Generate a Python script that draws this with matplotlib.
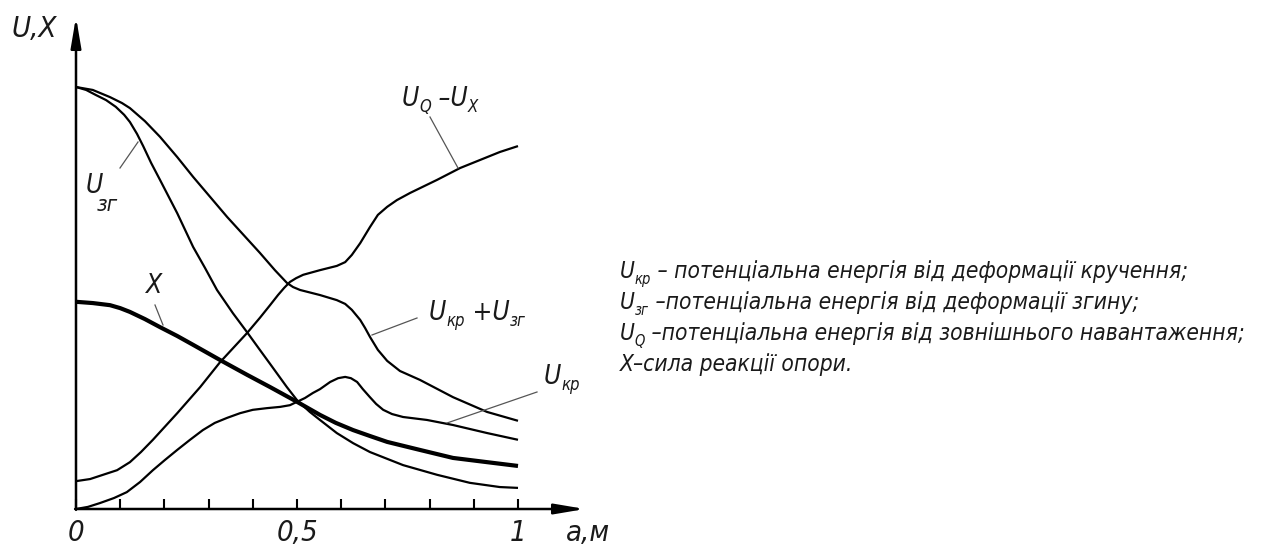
import os
import numpy as np
import matplotlib
matplotlib.use("Agg")
import matplotlib.pyplot as plt
from matplotlib import font_manager as fm

# ---------------- data ----------------
x_sum = [0, .038, .077, .104, .122, .156, .190, .229, .265, .342, .416, .450, .477, .491, .507,
         .552, .590, .609, .624, .643, .654, .665, .683, .704, .733, .778, .853, .930, 1.0]
u_sum = [1.0, .993, .976, .962, .950, .919, .882, .834, .787, .692, .607, .566, .536, .526, .519,
         .507, .495, .486, .472, .448, .429, .408, .377, .351, .327, .306, .265, .230, .209]

x_zg = [0, .023, .045, .068, .090, .109, .122, .138, .152, .170, .190, .229, .265, .292, .319, .355,
        .387, .416, .439, .477, .500, .529, .552, .590, .627, .665, .740, .817, .891, .959, 1.0]
u_zg = [1.0, .993, .981, .969, .953, .934, .917, .889, .860, .820, .780, .701, .621, .571, .519, .464,
        .419, .377, .344, .289, .258, .230, .211, .180, .156, .135, .104, .081, .062, .052, .050]

x_q = [0, .032, .061, .093, .122, .147, .174, .229, .281, .326, .387, .416, .439, .457, .471, .484,
       .498, .514, .552, .590, .609, .624, .643, .665, .683, .704, .726, .756, .817, .869, .959, 1.0]
u_q = [.066, .071, .081, .092, .111, .135, .164, .227, .289, .348, .417, .453, .483, .507, .524, .538,
       .547, .555, .566, .576, .585, .602, .630, .668, .697, .716, .732, .749, .780, .808, .846, .860]

x_kp = [0, .027, .054, .086, .115, .145, .174, .201, .229, .258, .287, .314, .342, .371, .400, .432,
        .462, .484, .500, .518, .536, .552, .575, .593, .609, .622, .636, .649, .665, .679, .695, .715,
        .740, .794, .853, .930, 1.0]
u_kp = [0, .005, .014, .026, .040, .064, .092, .116, .140, .164, .187, .204, .216, .227, .235, .239,
        .242, .246, .254, .263, .275, .284, .301, .310, .313, .310, .301, .284, .265, .249, .235, .225,
        .218, .211, .199, .180, .164]

x_x = [0, .038, .077, .100, .122, .156, .190, .229, .265, .326, .387, .439, .500, .552, .588, .627,
       .665, .704, .778, .853, .930, 1.0]
f_x = [.491, .488, .483, .476, .467, .450, .431, .410, .389, .353, .318, .289, .254, .223, .204, .187,
       .173, .159, .140, .121, .111, .102]

x_ticks = [0, .1, .2, .3, .4, .5, .6, .7, .8, .9, 1.0]
x_ticklabels = ["0", "", "", "", "", "0,5", "", "", "", "", "1"]

legend_lines = [
    ("кр", " – потенціальна енергія від деформації кручення;"),
    ("зг", " –потенціальна енергія від деформації згину;"),
    ("Q", " –потенціальна енергія від зовнішнього навантаження;"),
]
legend_last = "X–сила реакції опори."

# ---------------- font: prefer a narrow italic face ----------------
prefs = ["liberationsansnarrow-italic", "dejavusanscondensed-oblique",
         "notosans-extracondenseditalic", "notosans-condenseditalic",
         "notosans-semicondenseditalic", "robotocondensed-italic",
         "opensans-condenseditalic", "opensans_condensed-italic",
         "roboto-italic", "liberationsans-italic"]
files = {os.path.basename(f.fname).lower().rsplit(".", 1)[0]: f.fname
         for f in fm.fontManager.ttflist}
FONTFILE = None
for p in prefs:
    for k, v in files.items():
        if k.replace(" ", "").replace("_", "") == p.replace("_", ""):
            FONTFILE = v
            break
    if FONTFILE:
        break


def fprop(size):
    if FONTFILE:
        return fm.FontProperties(fname=FONTFILE, size=size)
    return fm.FontProperties(family="DejaVu Sans", style="italic", size=size)


# ---------------- figure ----------------
W, H = 1262, 546
fig = plt.figure(figsize=(W / 100, H / 100), dpi=100)
TXT = "#1a1a1a"

ax = fig.add_axes([76 / W, 37 / H, 442 / W, 422 / H])
ax.set_xlim(0, 1)
ax.set_ylim(0, 1)
for s in ax.spines.values():
    s.set_visible(False)
ax.set_yticks([])

lw = 1.6
for xs, ys, w in [(x_sum, u_sum, lw), (x_zg, u_zg, lw), (x_q, u_q, lw),
                  (x_kp, u_kp, lw), (x_x, f_x, 3.0)]:
    ax.plot(xs, ys, color="black", lw=w, solid_joinstyle="round",
            solid_capstyle="butt", clip_on=False)

arrow = dict(arrowstyle="-|>,head_length=1.3,head_width=0.22", lw=1.8,
             color="black", shrinkA=0, shrinkB=0, mutation_scale=14)
ax.annotate("", xy=(0, (509 - 17) / 422), xytext=(0, -0.002), arrowprops=arrow,
            annotation_clip=False)
ax.annotate("", xy=((585 - 76) / 442, 0), xytext=(-0.002, 0), arrowprops=arrow,
            annotation_clip=False)

ax.set_xticks(x_ticks, x_ticklabels)
ax.tick_params(axis="x", direction="in", length=7.5, width=1.5, pad=7, color="black")
for t in ax.get_xticklabels():
    t.set_fontproperties(fprop(21))
    t.set_color(TXT)

renderer = fig.canvas.get_renderer()


def ptext(x, y, s, size, **kw):
    return fig.text(x / W, 1 - y / H, s, fontproperties=fprop(size),
                    color=TXT, va="baseline", ha="left", **kw)


def chain(x, y, parts):
    for s, size, dy in parts:
        t = ptext(x, y + dy, s, size)
        x += t.get_window_extent(renderer).width
    return x


def leader(p0, p1):
    fig.add_artist(plt.Line2D([p0[0] / W, p1[0] / W], [1 - p0[1] / H, 1 - p1[1] / H],
                              color="#555555", lw=0.9, transform=fig.transFigure))


ptext(11, 37, "U,X", 21)
ptext(566, 541, "а,м", 21)

chain(402, 106, [("U", 19, 0), ("Q", 12, 6), (" –U", 19, 0), ("X", 12, 6)])
leader((430, 117), (458, 168))

ptext(86, 193, "U", 19)
ptext(97, 211, "зг", 16)
leader((120, 168), (138, 142))

ptext(146, 293, "X", 19)
leader((155, 305), (163, 325))

chain(429, 320, [("U", 19, 0), ("кр", 12, 6), (" +U", 19, 0), ("зг", 12, 6)])
leader((417, 318), (372, 335))

chain(544, 384, [("U", 19, 0), ("кр", 12, 6)])
leader((537, 392), (447, 423))

# legend: fit the longest line to the reference width (620 -> 1250 px)
base = 17
probe = ptext(0, 0, "U" + legend_lines[2][0] + legend_lines[2][1], base)
wid = probe.get_window_extent(renderer).width
probe.remove()
k = min(1.0, 630 / wid)
size, ssize = base * k, 11 * k
y0, dy = 278, 31
for i, (sub, rest) in enumerate(legend_lines):
    chain(620, y0 + i * dy, [("U", size, 0), (sub, ssize, 6), (rest, size, 0)])
chain(620, y0 + 3 * dy, [(legend_last, size, 0)])

fig.savefig("out.png", dpi=100)
